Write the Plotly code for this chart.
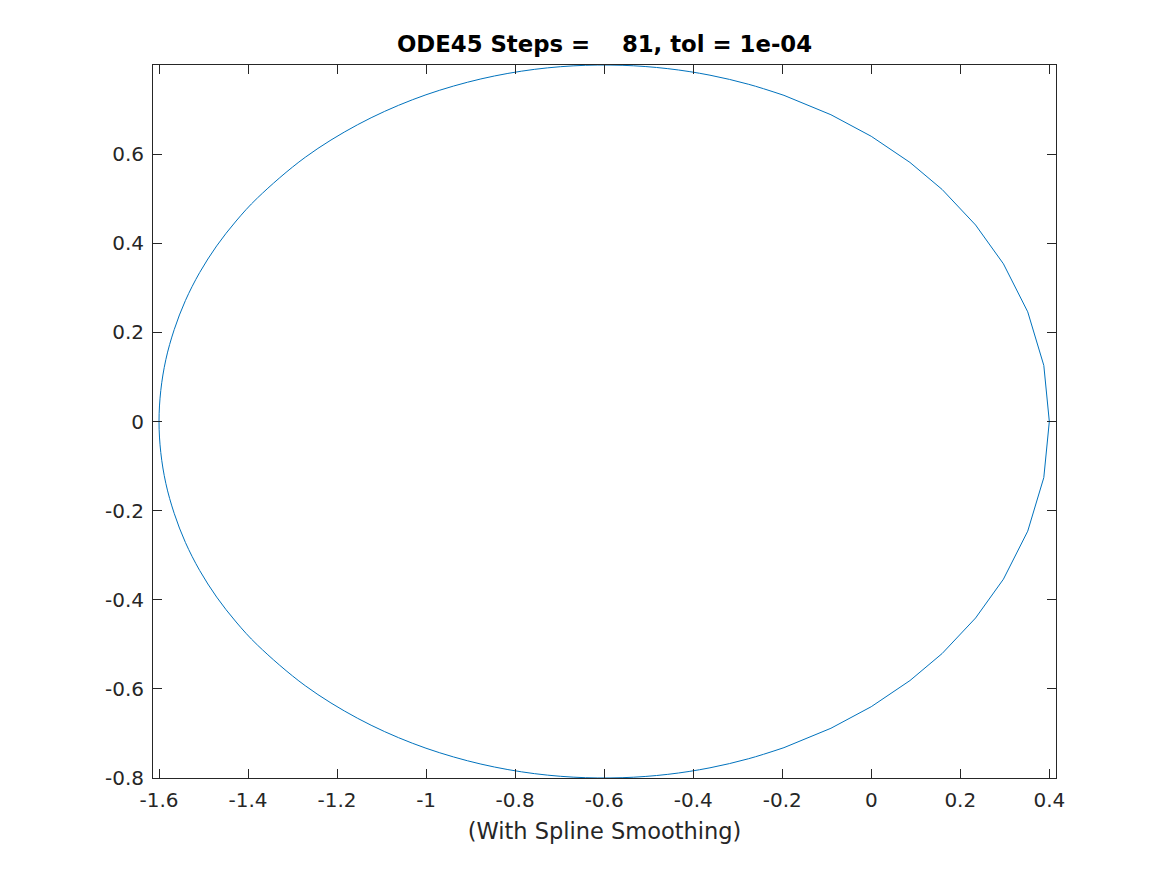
import plotly.graph_objects as go

# Orbit points.
# Near-perihelion arc (drawn with straight segments, visible kinks in the reference)
x_near = [-0.1961, -0.0906, 0.0, 0.0869, 0.1592, 0.2344, 0.2969, 0.3515, 0.3876, 0.4,
          0.3876, 0.3515, 0.2969, 0.2344, 0.1592, 0.0869, 0.0, -0.0906, -0.1961]
y_near = [-0.7319, -0.6884, -0.64, -0.5814, -0.5207, -0.4409, -0.3538, -0.2461, -0.1259, 0.0,
          0.1259, 0.2461, 0.3538, 0.4409, 0.5207, 0.5814, 0.64, 0.6884, 0.7319]
# Far arc (smooth in the reference)
x_far = [-0.1961, -0.2754, -0.3623, -0.4571, -0.5597, -0.6697, -0.7861, -0.9072, -1.0310,
         -1.1537, -1.2715, -1.3787, -1.4268, -1.4705, -1.5086, -1.5406, -1.5659, -1.5847,
         -1.5960, -1.6,
         -1.5960, -1.5847, -1.5659, -1.5406, -1.5086, -1.4705, -1.4268, -1.3787, -1.2715,
         -1.1537, -1.0310, -0.9072, -0.7861, -0.6697, -0.5597, -0.4571, -0.3623, -0.2754,
         -0.1961]
y_far = [0.7319, 0.7567, 0.7771, 0.7918, 0.7993, 0.7981, 0.7861, 0.7613, 0.7219,
         0.6661, 0.5929, 0.5018, 0.4499, 0.3940, 0.3344, 0.2716, 0.2061, 0.1387,
         0.0697, 0.0,
         -0.0697, -0.1387, -0.2061, -0.2716, -0.3344, -0.3940, -0.4499, -0.5018, -0.5929,
         -0.6661, -0.7219, -0.7613, -0.7861, -0.7981, -0.7993, -0.7918, -0.7771, -0.7567,
         -0.7319]

x_tick_vals = [-1.6, -1.4, -1.2, -1.0, -0.8, -0.6, -0.4, -0.2, 0.0, 0.2, 0.4]
x_tick_text = ["-1.6", "-1.4", "-1.2", "-1", "-0.8", "-0.6", "-0.4", "-0.2", "0", "0.2", "0.4"]
y_tick_vals = [-0.8, -0.6, -0.4, -0.2, 0.0, 0.2, 0.4, 0.6]
y_tick_text = ["-0.8", "-0.6", "-0.4", "-0.2", "0", "0.2", "0.4", "0.6"]

title_text = "ODE45 Steps =\u00a0\u00a0\u00a0\u00a081, tol = 1e-04"
xlabel_text = "(With Spline Smoothing)"

# page body has an 8px margin; sizes chosen so the axes land where the reference has them
W, H = 1159, 867
ML, MR, MT, MB = 145, 111, 57, 97
axcol = "#262626"
line_col = "#0072BD"
font_family = "DejaVu Sans, Liberation Sans, sans-serif"

fig = go.Figure()
fig.add_trace(go.Scatter(
    x=x_near, y=y_near, mode="lines",
    line=dict(color=line_col, width=1), hoverinfo="skip", showlegend=False))
fig.add_trace(go.Scatter(
    x=x_far, y=y_far, mode="lines",
    line=dict(color=line_col, width=1, shape="spline", smoothing=1),
    hoverinfo="skip", showlegend=False))

axis_common = dict(
    showgrid=False, zeroline=False, showline=True, linecolor=axcol, linewidth=1,
    mirror="allticks", ticks="inside", ticklen=9, tickwidth=1, tickcolor=axcol,
    tickfont=dict(family=font_family, size=20, color=axcol),
)

fig.update_layout(
    width=W, height=H,
    margin=dict(l=ML, r=MR, t=MT, b=MB, pad=0),
    paper_bgcolor="white", plot_bgcolor="white",
    font=dict(family=font_family, color=axcol),
    title=dict(text="<b>" + title_text + "</b>", x=0.5, xref="paper", xanchor="center",
               y=1 - 36 / H, yref="container", yanchor="middle",
               font=dict(family=font_family, size=22.8, color="black")),
    xaxis=dict(range=[-1.6135, 0.415], tickmode="array", tickvals=x_tick_vals,
               ticktext=x_tick_text, ticklabelstandoff=4,
               title=dict(text=xlabel_text, standoff=12,
                          font=dict(family=font_family, size=22.5, color=axcol)),
               **axis_common),
    yaxis=dict(range=[-0.8, 0.8], tickmode="array", tickvals=y_tick_vals,
               ticktext=y_tick_text, ticklabelstandoff=4, **axis_common),
)

fig.write_html("out.html")
